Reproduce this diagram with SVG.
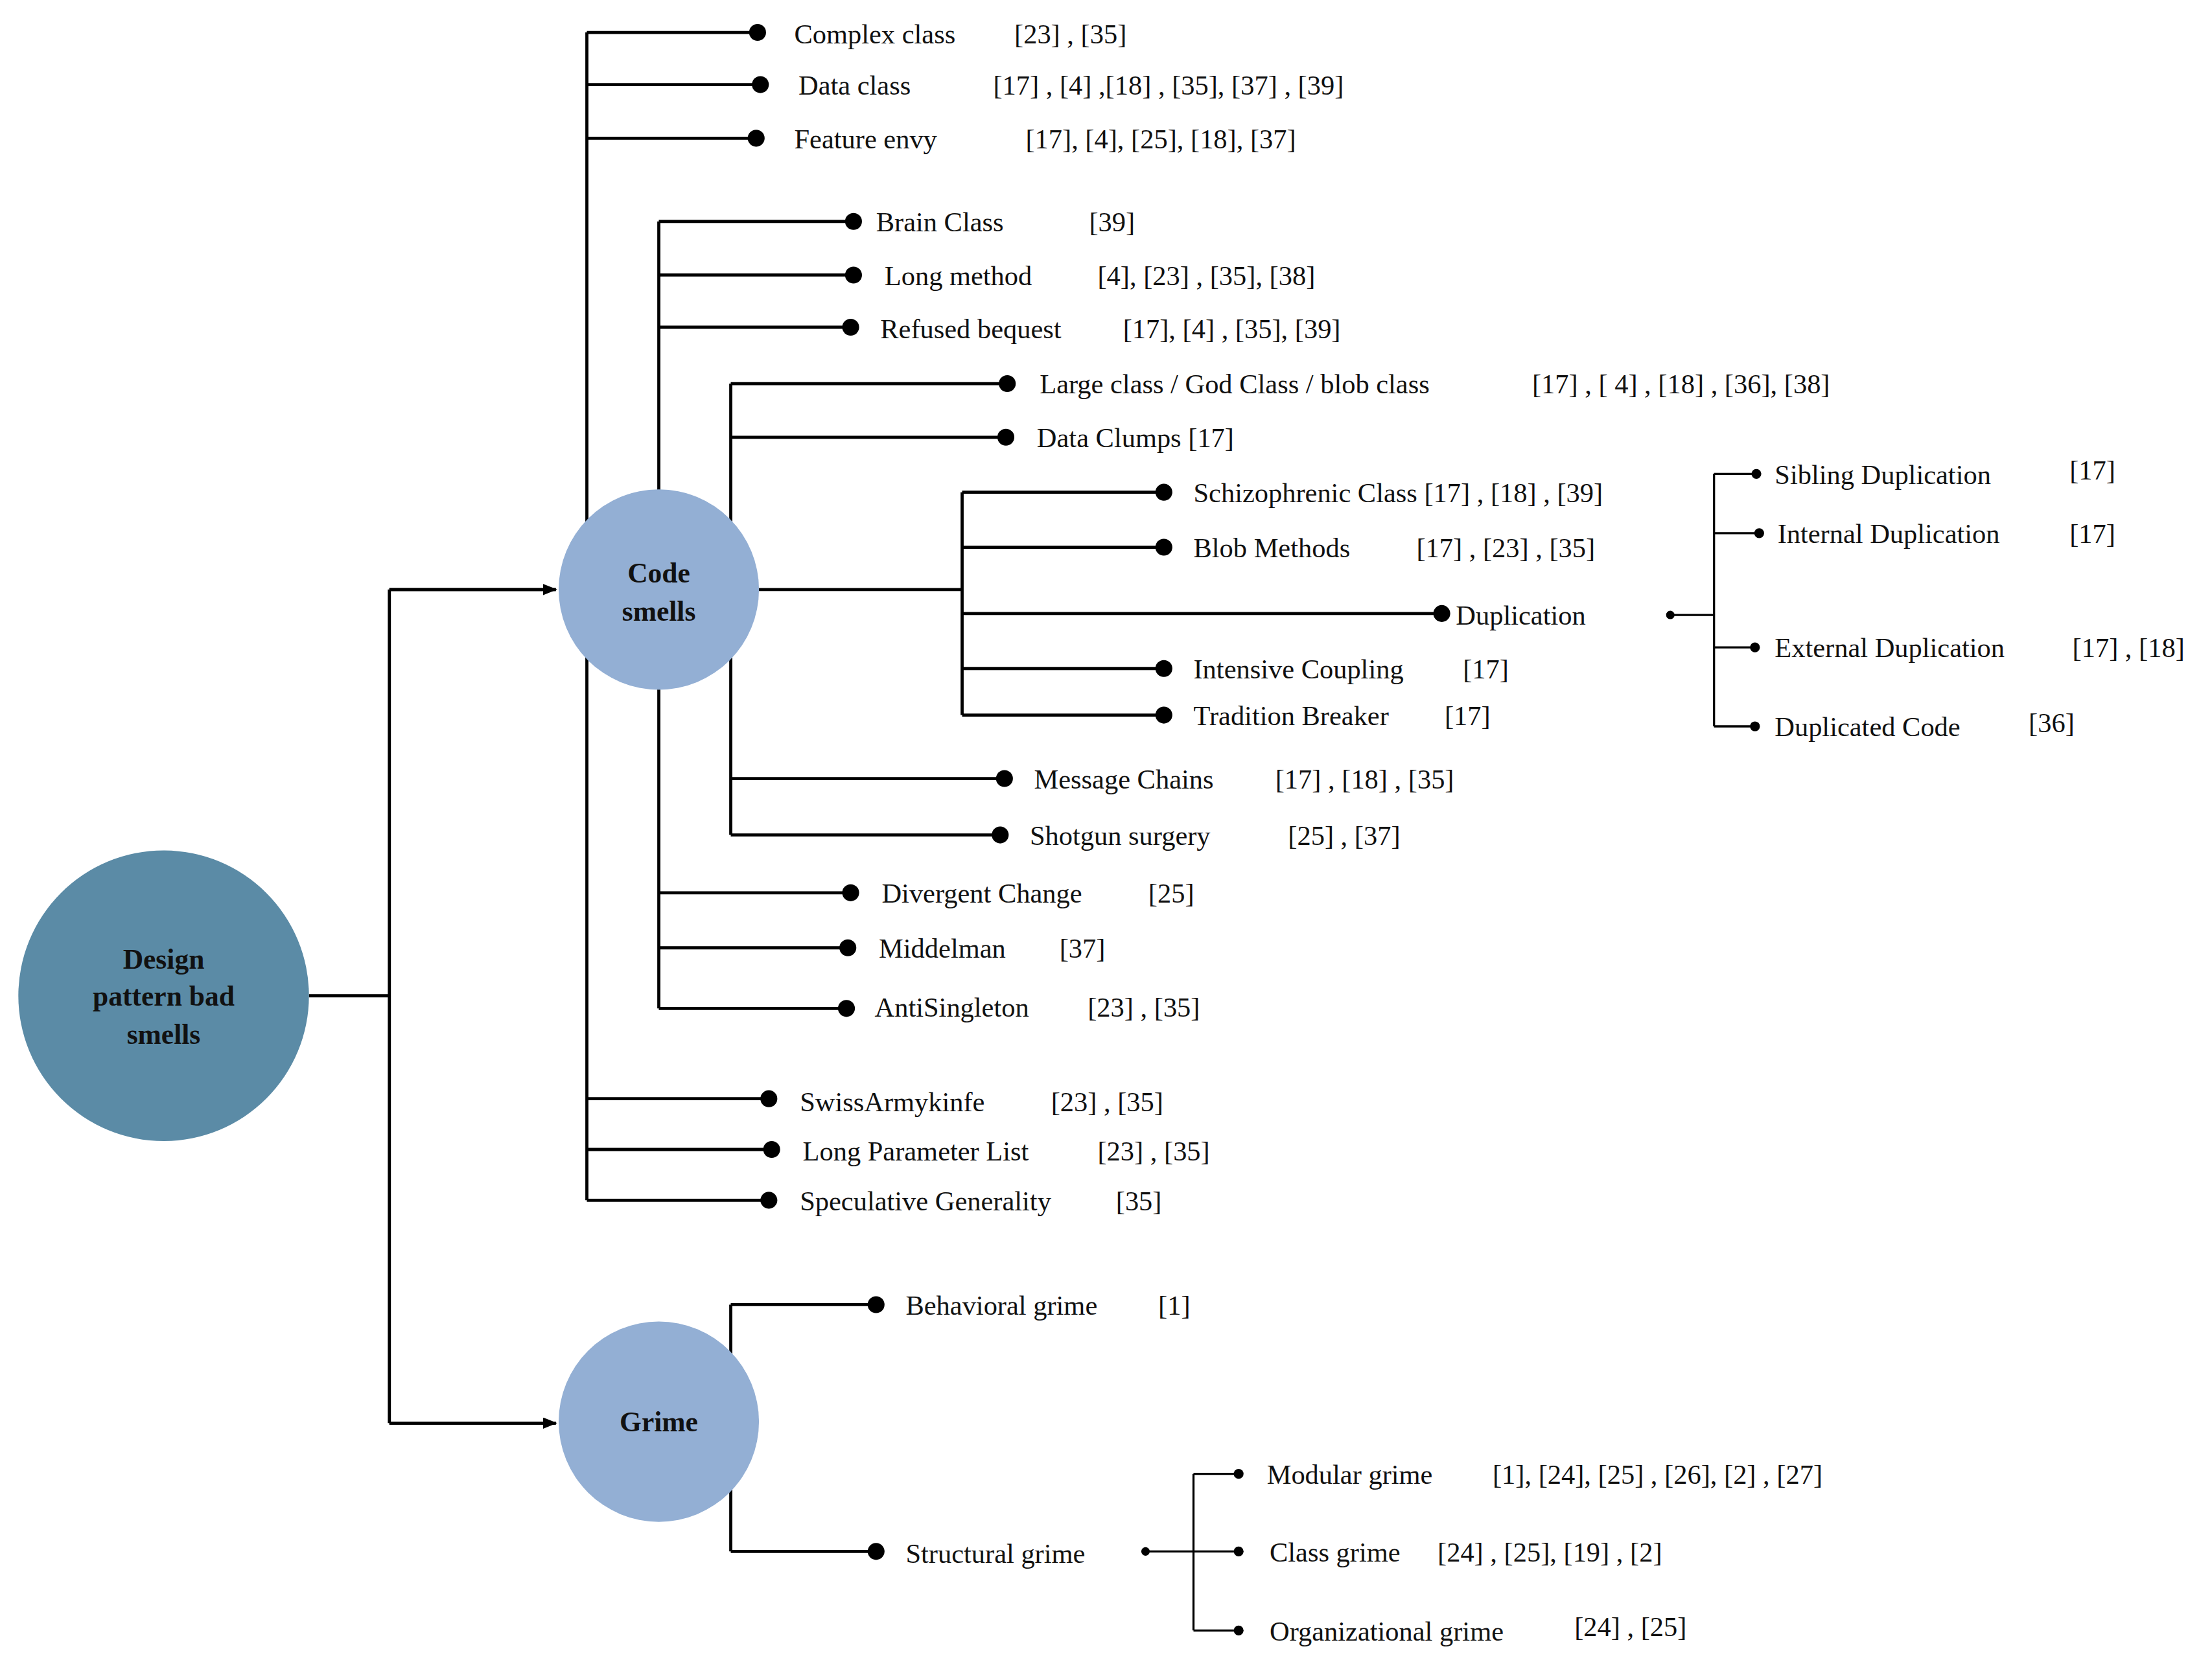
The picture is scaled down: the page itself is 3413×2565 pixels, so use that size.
<svg xmlns="http://www.w3.org/2000/svg" width="3413" height="2565" viewBox="0 0 3413 2565">
<style>
text{font-family:"Liberation Serif","Times New Roman",serif;font-size:19.5px;fill:#111}
.b{font-weight:bold;font-size:20px}
.l{stroke:#000;stroke-width:2.2;fill:none}
.d{fill:#000}
</style>
<defs><marker id="a" markerWidth="10" markerHeight="8" refX="9" refY="4" orient="auto" markerUnits="userSpaceOnUse"><path d="M0,0L10,4L0,8z" fill="#000"/></marker></defs>
<rect width="3413" height="2565" fill="#fff"/>
<g transform="scale(2.1767)">
<g id="connectors">
<path class="l" d="M219,706H276M276,418V1009M276,418H394M276,1009H394" />
<path class="l" d="M276,418H394" marker-end="url(#a)"/>
<path class="l" d="M276,1009H394" marker-end="url(#a)"/>
<path class="l" d="M416,23V851M416,23H537M416,60H539M416,98H536M416,779H545M416,815H547M416,851H545"/>
<path class="l" d="M467,157V715M467,157H605M467,195H605M467,232H603M467,633H603M467,672H601M467,715H600"/>
<path class="l" d="M518,272V592M518,272H714M518,310H713M518,552H712M518,592H709"/>
<path class="l" d="M538,418H682M682,349V507M682,349H825M682,388H825M682,435H1022M682,474H825M682,507H825"/>
<path class="l" d="M1184,436H1215M1215,336V515M1215,336H1245M1215,378H1247M1215,459H1244M1215,515H1244" style="stroke-width:1.5"/>
<path class="l" d="M518,925V1100M518,925H621M518,1100H621"/>
<path class="l" d="M812,1100H846M846,1045V1156M846,1045H878M846,1100H878M846,1156H878" style="stroke-width:1.5"/>
<g class="d">
<circle cx="537" cy="23" r="6"/><circle cx="539" cy="60" r="6"/><circle cx="536" cy="98" r="6"/>
<circle cx="545" cy="779" r="6"/><circle cx="547" cy="815" r="6"/><circle cx="545" cy="851" r="6"/>
<circle cx="605" cy="157" r="6"/><circle cx="605" cy="195" r="6"/><circle cx="603" cy="232" r="6"/>
<circle cx="603" cy="633" r="6"/><circle cx="601" cy="672" r="6"/><circle cx="600" cy="715" r="6"/>
<circle cx="714" cy="272" r="6"/><circle cx="713" cy="310" r="6"/><circle cx="712" cy="552" r="6"/><circle cx="709" cy="592" r="6"/>
<circle cx="825" cy="349" r="6"/><circle cx="825" cy="388" r="6"/><circle cx="1022" cy="435" r="6"/><circle cx="825" cy="474" r="6"/><circle cx="825" cy="507" r="6"/>
<circle cx="1184" cy="436" r="3"/><circle cx="1245" cy="336" r="3.5"/><circle cx="1247" cy="378" r="3.5"/><circle cx="1244" cy="459" r="3.5"/><circle cx="1244" cy="515" r="3.5"/>
<circle cx="621" cy="925" r="6"/><circle cx="621" cy="1100" r="6"/>
<circle cx="812" cy="1100" r="3"/><circle cx="878" cy="1045" r="3.5"/><circle cx="878" cy="1100" r="3.5"/><circle cx="878" cy="1156" r="3.5"/>
</g>
</g>
<g id="root"><circle cx="116" cy="706" r="103" fill="#5B8BA6"/>
<text class="b" x="116" y="687" text-anchor="middle">Design</text><text class="b" x="116" y="713" text-anchor="middle">pattern bad</text><text class="b" x="116" y="740" text-anchor="middle">smells</text></g>
<g id="codesmells"><circle cx="467" cy="418" r="71" fill="#93AFD4"/>
<text class="b" x="467" y="413" text-anchor="middle">Code</text><text class="b" x="467" y="440" text-anchor="middle">smells</text></g>
<g id="grime"><circle cx="467" cy="1008" r="71" fill="#93AFD4"/>
<text class="b" x="467" y="1015" text-anchor="middle">Grime</text></g>
<g id="labels">
<text x="563" y="31">Complex class</text><text x="719" y="31">[23] , [35]</text>
<text x="566" y="67">Data class</text><text x="704" y="67">[17] , [4] ,[18] , [35], [37] , [39]</text>
<text x="563" y="105">Feature envy</text><text x="727" y="105">[17], [4], [25], [18], [37]</text>
<text x="621" y="164">Brain Class</text><text x="772" y="164">[39]</text>
<text x="627" y="202">Long method</text><text x="778" y="202">[4], [23] , [35], [38]</text>
<text x="624" y="240">Refused bequest</text><text x="796" y="240">[17], [4]  , [35],  [39]</text>
<text x="737" y="279">Large class / God Class / blob class</text><text x="1086" y="279">[17] , [ 4] , [18] , [36], [38]</text>
<text x="735" y="317">Data Clumps [17]</text>
<text x="846" y="356">Schizophrenic  Class  [17] , [18] , [39]</text>
<text x="846" y="395">Blob Methods</text><text x="1004" y="395">[17] , [23] , [35]</text>
<text x="1032" y="443">Duplication</text>
<text x="846" y="481">Intensive Coupling</text><text x="1037" y="481">[17]</text>
<text x="846" y="514">Tradition Breaker</text><text x="1024" y="514">[17]</text>
<text x="1258" y="343">Sibling Duplication</text><text x="1467" y="340">[17]</text>
<text x="1260" y="385">Internal Duplication</text><text x="1467" y="385">[17]</text>
<text x="1258" y="466">External Duplication</text><text x="1469" y="466">[17] , [18]</text>
<text x="1258" y="522">Duplicated Code</text><text x="1438" y="519">[36]</text>
<text x="733" y="559">Message Chains</text><text x="904" y="559">[17] , [18] , [35]</text>
<text x="730" y="599">Shotgun surgery</text><text x="913" y="599">[25] , [37]</text>
<text x="625" y="640">Divergent Change</text><text x="814" y="640">[25]</text>
<text x="623" y="679">Middelman</text><text x="751" y="679">[37]</text>
<text x="620" y="721">AntiSingleton</text><text x="771" y="721">[23] , [35]</text>
<text x="567" y="788">SwissArmykinfe</text><text x="745" y="788">[23] , [35]</text>
<text x="569" y="823">Long Parameter List</text><text x="778" y="823">[23] , [35]</text>
<text x="567" y="858">Speculative Generality</text><text x="791" y="858">[35]</text>
<text x="642" y="932">Behavioral grime</text><text x="821" y="932">[1]</text>
<text x="642" y="1108">Structural grime</text>
<text x="898" y="1052">Modular grime</text><text x="1058" y="1052">[1], [24], [25] , [26], [2] , [27]</text>
<text x="900" y="1107">Class grime</text><text x="1019" y="1107">[24] , [25], [19] , [2]</text>
<text x="900" y="1163">Organizational  grime</text><text x="1116" y="1160">[24] , [25]</text>
</g>
</g>
</svg>
